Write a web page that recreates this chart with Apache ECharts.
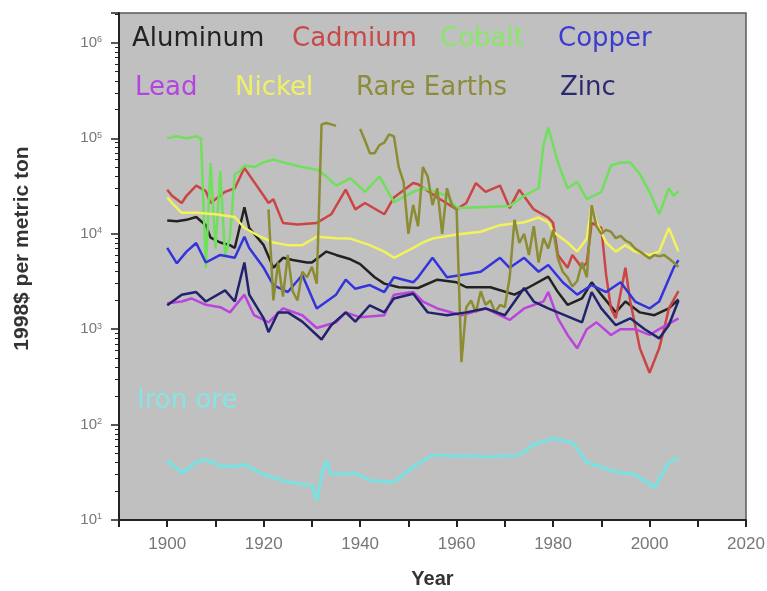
<!DOCTYPE html>
<html><head><meta charset="utf-8">
<script src="https://cdn.jsdelivr.net/npm/echarts@6/dist/echarts.min.js"></script>
<style>html,body{margin:0;padding:0;background:#fff}#c{width:767px;height:591px}</style>
</head><body><div id="c"></div>
<script>
// ---- data: [year, 1998$ per metric ton] ----
const aluminum = [[1900,13800],[1902,13500],[1904,14000],[1906,15000],[1908,12300],[1909,9100],[1911,8100],[1913,7600],[1914,7100],[1916,19000],[1917,11500],[1920,7600],[1922,4400],[1924,5600],[1926,5300],[1929,5000],[1930,5000],[1933,6500],[1935,6000],[1938,5400],[1940,4800],[1943,3500],[1945,3000],[1948,2750],[1952,2700],[1956,3300],[1960,3100],[1962,2750],[1967,2750],[1972,2300],[1975,2750],[1979,3550],[1981,2450],[1983,1800],[1986,2100],[1988,3100],[1990,2300],[1993,1500],[1995,1950],[1998,1500],[2001,1400],[2004,1650],[2006,2050]];
const cadmium = [[1900,29000],[1901,25000],[1903,21000],[1904,25000],[1906,32000],[1908,28000],[1909,21000],[1912,27500],[1914,30000],[1916,49000],[1918,35000],[1920,25000],[1921,21000],[1922,23000],[1924,13000],[1927,12500],[1931,13000],[1934,16000],[1937,29000],[1939,18000],[1941,21000],[1945,16000],[1947,24000],[1951,34000],[1952,33000],[1956,24000],[1960,18000],[1962,21000],[1964,34000],[1966,27500],[1969,32000],[1971,18600],[1973,29000],[1976,18000],[1979,14800],[1980,13000],[1981,6000],[1983,4400],[1984,6000],[1986,4400],[1987,5000],[1988,13000],[1990,11500],[1991,3700],[1992,1650],[1993,1300],[1995,4400],[1996,1950],[1998,630],[2000,350],[2002,630],[2003,1000],[2004,1650],[2006,2500]];
const cobalt = [[1900,100000],[1902,105000],[1904,100000],[1906,105000],[1907,100000],[1908,4400],[1909,55000],[1910,7000],[1911,45000],[1912,6000],[1913,9000],[1914,42000],[1915,45000],[1916,52000],[1918,50000],[1920,56000],[1922,60000],[1924,56000],[1928,50000],[1931,47000],[1933,40000],[1935,32000],[1938,38000],[1941,27500],[1944,40000],[1947,21500],[1951,27500],[1953,30000],[1955,28000],[1958,25000],[1960,18600],[1965,19000],[1971,19500],[1974,25000],[1977,30000],[1978,85000],[1979,130000],[1981,56000],[1983,30000],[1985,35000],[1987,23000],[1990,27500],[1992,52000],[1994,56000],[1996,56000],[1998,42000],[2000,27500],[2002,16000],[2004,30000],[2005,25000],[2006,28000]];
const copper = [[1900,7100],[1902,4900],[1904,6500],[1906,8000],[1908,5000],[1911,6000],[1914,5600],[1916,9300],[1917,7100],[1920,4400],[1922,2900],[1925,2450],[1928,3700],[1931,1650],[1935,2300],[1937,3300],[1939,2650],[1942,2900],[1945,2450],[1947,3500],[1951,3100],[1952,3500],[1955,5600],[1958,3500],[1961,3700],[1965,4000],[1969,5600],[1971,4400],[1974,5600],[1977,4000],[1979,4700],[1982,3100],[1985,2300],[1988,2900],[1991,2450],[1994,3100],[1997,1950],[2000,1650],[2002,1950],[2005,4400],[2006,5300]];
const lead = [[1900,1870],[1903,1950],[1905,2100],[1908,1800],[1911,1700],[1913,1500],[1916,2300],[1918,1400],[1921,1180],[1924,1650],[1928,1400],[1931,1030],[1935,1180],[1937,1500],[1940,1330],[1945,1400],[1947,2300],[1951,2450],[1953,1950],[1956,1650],[1961,1400],[1966,1650],[1971,1250],[1974,1650],[1978,1950],[1979,2450],[1981,1300],[1983,870],[1985,630],[1987,1000],[1989,1180],[1992,870],[1994,1000],[1997,1000],[2000,870],[2002,1000],[2006,1300]];
const nickel = [[1900,24000],[1901,21000],[1903,16600],[1906,16600],[1910,16000],[1914,15000],[1916,11500],[1919,9500],[1922,8100],[1925,7600],[1928,7600],[1931,9300],[1935,9000],[1938,8900],[1942,7600],[1945,6500],[1947,5600],[1951,7100],[1953,8100],[1955,8900],[1960,9800],[1965,10500],[1969,12300],[1974,13200],[1977,14800],[1979,13200],[1980,10500],[1983,8100],[1985,6500],[1987,8900],[1988,20000],[1989,13200],[1991,8100],[1993,6500],[1995,7600],[1997,6500],[2000,6000],[2002,6500],[2004,11500],[2006,6500]];
const rareEarths = [[1921,18000],[1922,2000],[1923,5000],[1924,2200],[1925,6000],[1926,2500],[1927,2000],[1928,4000],[1929,3500],[1930,4500],[1931,3000],[1932,140000],[1933,145000],[1934,140000],[1935,135000],[1936,null],[1939,null],[1940,125000],[1941,95000],[1942,70000],[1943,70000],[1944,85000],[1945,90000],[1946,110000],[1947,105000],[1948,50000],[1949,35000],[1950,10000],[1951,20000],[1952,12000],[1953,50000],[1954,40000],[1955,20000],[1956,30000],[1957,10000],[1958,30000],[1959,20000],[1960,18000],[1961,450],[1962,1700],[1963,2000],[1964,1500],[1965,2500],[1966,1800],[1967,2000],[1968,1500],[1969,1800],[1970,1700],[1971,3500],[1972,14000],[1973,8000],[1974,10000],[1975,6000],[1976,12000],[1977,5000],[1978,9000],[1979,7000],[1980,11000],[1981,5500],[1982,4000],[1983,3500],[1984,2800],[1985,3200],[1986,5000],[1987,3500],[1988,20000],[1989,12000],[1990,10000],[1991,11000],[1992,10500],[1993,9000],[1994,9500],[1995,8500],[1996,8000],[1997,7000],[1998,6500],[1999,6000],[2000,5500],[2001,6000],[2002,5800],[2003,6000],[2004,5500],[2005,5000],[2006,4500]];
const zinc = [[1900,1780],[1903,2300],[1906,2450],[1908,1950],[1912,2550],[1914,1950],[1916,5000],[1917,2300],[1920,1300],[1921,930],[1923,1500],[1925,1500],[1928,1200],[1932,780],[1934,1100],[1937,1500],[1939,1200],[1942,1780],[1945,1500],[1947,2100],[1951,2350],[1954,1500],[1958,1400],[1962,1500],[1966,1650],[1970,1400],[1974,2700],[1976,1950],[1979,1650],[1981,1500],[1986,1180],[1988,2450],[1990,1650],[1993,1100],[1996,1300],[1999,1000],[2002,800],[2004,1100],[2006,2000]];
const ironOre = [[1900,42],[1903,31],[1906,40],[1908,43],[1911,37],[1914,36],[1916,38],[1920,30],[1925,25],[1930,23],[1931,16],[1932,30],[1933,42],[1934,30],[1939,31],[1942,26],[1947,25],[1951,36],[1955,48],[1966,46],[1973,48],[1976,62],[1980,72],[1984,65],[1987,40],[1993,32],[1997,30],[2001,22],[2004,40],[2006,45]];

const seriesNames = ['Aluminum','Cadmium','Cobalt','Copper','Lead','Nickel','Rare Earths','Zinc','Iron ore'];
const seriesData = [aluminum, cadmium, cobalt, copper, lead, nickel, rareEarths, zinc, ironOre];
const xTicks = {min: 1890, max: 2020, step: 10, labelEvery: 20};

// ---- styling / layout ----
const lineColors = ['#222222','#cc4444','#6ee05a','#3434dd','#bb44dd','#f2f25a','#8c8c32','#22226e','#78e2e2'];
const textColors = ['#222222','#c84848','#86e866','#3c3cd2','#b444e0','#f0f066','#8c8c3c','#2a2a70','#86e4e4'];
const legendPos = [[127,26],[287,26],[435,26],[553,26],[130,75],[230,75],[351,75],[555,75],[132,388]];
const FONT = 'Liberation Sans, Arial, sans-serif';

const chart = echarts.init(document.getElementById('c'), null, {renderer:'canvas'});
chart.setOption({
  animation: false,
  backgroundColor: '#ffffff',
  grid: {left:119, right:21, top:13, bottom:71, outerBoundsMode:'none', containLabel:false, show:true, backgroundColor:'#c0c0c0', borderColor:'#5a5a5a', borderWidth:1.5},
  legend: seriesNames.map((n,i)=>({
    data:[{name:n, textStyle:{color:textColors[i]}}],
    left: legendPos[i][0], top: legendPos[i][1], padding:0,
    icon:'none', itemWidth:0, itemHeight:0, itemGap:0, selectedMode:false,
    textStyle:{fontFamily:'DejaVu Sans, sans-serif', fontSize:26}
  })),
  xAxis: {
    type:'value', min:xTicks.min, max:xTicks.max, interval:xTicks.step,
    name:'Year', nameLocation:'middle', nameGap:49,
    nameTextStyle:{fontFamily:FONT, fontSize:20, fontWeight:'bold', color:'#333'},
    axisLine:{lineStyle:{color:'#222', width:2}},
    axisTick:{show:true, length:7, lineStyle:{color:'#222', width:2}},
    splitLine:{show:false},
    axisLabel:{margin:16, color:'#777', fontSize:17, fontFamily:FONT,
      formatter:v=> (v % xTicks.labelEvery === 0 && v > xTicks.min) ? String(v) : ''}
  },
  yAxis: {
    type:'log', logBase:10, min:10, max:2060000,
    name:'1998$ per metric ton', nameLocation:'middle', nameGap:86,
    nameTextStyle:{fontFamily:FONT, fontSize:21, fontWeight:'bold', color:'#333', padding:[0,0,0,36]},
    axisLine:{show:true, lineStyle:{color:'#222', width:2}},
    axisTick:{show:true, length:8, lineStyle:{color:'#222', width:1.5}},
    minorTick:{show:true, splitNumber:9, length:4, lineStyle:{color:'#222', width:1}},
    splitLine:{show:false},
    axisLabel:{margin:17, showMaxLabel:false, color:'#777', fontFamily:FONT,
      formatter:function(v){ const e=Math.log10(v); if(Math.abs(e-Math.round(e))>1e-6) return ''; return '{b|10}{s|'+Math.round(e)+'}'; },
      rich:{b:{fontSize:15, color:'#777', fontFamily:FONT}, s:{fontSize:9, color:'#777', verticalAlign:'top', padding:[0,0,6,0]}}}
  },
  series: seriesNames.map((n,i)=>({
    name:n, type:'line', data:seriesData[i], showSymbol:false, connectNulls:false,
    lineStyle:{color:lineColors[i], width: i===8 ? 3.2 : 2.5}, itemStyle:{color:lineColors[i]},
    z: 2
  }))
});
</script></body></html>
